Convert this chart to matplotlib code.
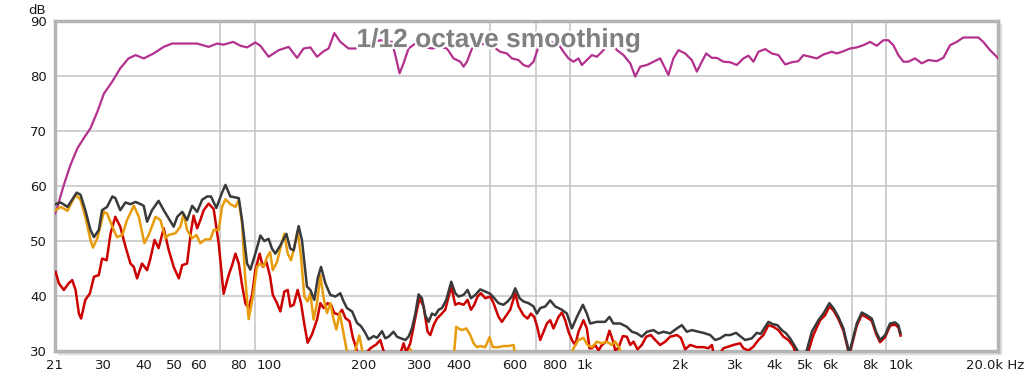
import matplotlib
matplotlib.use('Agg')
import matplotlib.pyplot as plt
import matplotlib.patheffects as pe
from matplotlib.patches import Rectangle
from matplotlib.ticker import FixedLocator, NullLocator

# magenta: main response
mag_f = [21.0, 21.3, 22.4, 23.5, 24.7, 25.9, 27.2, 28.6, 30.0, 31.9, 33.8, 35.9, 37.8, 40.1,
         43.1, 46.4, 49.3, 53.7, 59.2, 64.4, 68.5, 71.8, 77.0, 81.2, 85.2, 90.5, 93.9, 99.7,
         107.3, 115.4, 122.7, 128.7, 135.2, 141.9, 148.9, 154.4, 161.0, 168.2, 178.7, 187.6,
         197.5, 209.4, 225.1, 245.1, 251.1, 259.1, 266.7, 276.6, 290.6, 308.6, 328.1, 348.6,
         366.0, 384.1, 403.3, 413.1, 423.5, 439.2, 450.0, 484.0, 514.0, 539.7, 566.7, 587.8,
         616.8, 639.6, 663.5, 688.0, 713.6, 765.9, 816.0, 856.1, 888.0, 921.0, 955.1, 979.0,
         1015, 1053, 1092, 1133, 1203, 1264, 1326, 1393, 1444, 1498, 1573, 1650, 1733, 1775,
         1840, 1908, 1980, 2079, 2182, 2264, 2348, 2423, 2526, 2619, 2748, 2886, 3030, 3179,
         3298, 3420, 3547, 3725, 3910, 4104, 4310, 4525, 4747, 4923, 5171, 5429, 5696, 6056,
         6281, 6590, 6920, 7266, 7624, 8006, 8406, 8820, 9149, 9487, 9841, 10207, 10585,
         11116, 11670, 12247, 13018, 13659, 14344, 15061, 15802, 16595, 17630, 18282, 19200,
         20159, 20350]
mag_db = [55.0, 55.9, 60.2, 63.8, 66.8, 68.7, 70.5, 73.5, 76.8, 79.0, 81.4, 83.2, 83.8, 83.2,
          84.1, 85.3, 85.9, 85.9, 85.9, 85.3, 85.9, 85.7, 86.2, 85.5, 85.2, 86.1, 85.5, 83.5,
          84.7, 85.3, 83.3, 85.0, 85.2, 83.5, 84.5, 85.0, 87.8, 86.2, 85.0, 85.0,
          85.5, 86.0, 86.5, 86.2, 83.8, 80.5, 82.3, 85.0, 85.9, 85.3, 85.0, 85.3,
          85.0, 83.2, 82.6, 81.7, 82.6, 85.0, 85.9, 85.8, 85.3, 84.4, 84.1, 83.2,
          82.9, 82.0, 81.7, 82.6, 85.3, 86.0, 86.2, 84.4, 83.2, 82.6, 83.2, 82.0,
          82.9, 83.8, 83.5, 84.4, 86.2, 84.7, 83.8, 82.3, 79.9, 81.7, 82.0, 82.6, 83.2, 82.0,
          80.2, 83.2, 84.7, 84.1, 82.9, 80.8, 82.6, 84.1, 83.3, 83.3, 82.6, 82.5, 82.0, 83.2,
          83.7, 82.6, 84.4, 84.9, 84.1, 83.8, 82.1, 82.5, 82.7, 83.8, 83.5, 83.2, 83.9, 84.4,
          84.1, 84.5, 85.0, 85.2, 85.6, 86.2, 85.5, 86.5, 86.5, 85.6, 83.8, 82.6, 82.6,
          83.2, 82.3, 82.9, 82.7, 83.3, 85.6, 86.2, 87.0, 87.0, 87.0, 86.2, 84.7,
          83.5, 83.2]

# dark grey
dark_f = [21.1, 21.9, 23.0, 23.8, 24.6, 25.3, 26.2, 27.2, 27.9, 28.9, 29.6, 30.7, 31.9, 32.6,
          33.8, 35.1, 36.4, 37.8, 39.2, 40.1, 41.1, 42.6, 44.7, 46.4, 48.1, 49.9, 51.2, 53.1,
          55.0, 57.1, 59.2, 61.4, 63.7, 65.5, 68.1, 71.0, 72.8, 75.4, 80.2, 82.2, 85.2, 87.3,
          90.5, 93.9, 96.6, 99.7, 102.2, 104.7, 108.6, 113.5, 116.8, 119.7, 124.1, 127.2,
          131.9, 135.2, 139.1, 142.6, 146.1, 150.8, 156.4, 162.2, 168.2, 172.3, 176.6, 183.2,
          190.0, 195.6, 201.8, 206.7, 214.4, 219.8, 227.9, 233.5, 239.1, 247.9, 254.2, 261.7,
          270.1, 276.6, 283.5, 290.6, 297.6, 305.0, 312.5, 320.1, 328.1, 336.1, 344.3, 352.9,
          364.2, 377.6, 388.9, 398.4, 413.1, 425.4, 436.0, 450.0, 466.6, 484.0, 501.9, 516.7,
          533.1, 552.8, 569.3, 587.8, 602.2, 621.4, 639.6, 663.5, 688.0, 705.3, 722.5, 749.4,
          777.1, 806.1, 846.2, 877.6, 910.2, 944.0, 986.2, 1015, 1040, 1092, 1160, 1197, 1232,
          1295, 1359, 1410, 1462, 1516, 1573, 1650, 1712, 1775, 1863, 1957, 2029, 2104, 2182,
          2290, 2375, 2495, 2588, 2683, 2783, 2886, 3015, 3104, 3220, 3380, 3505, 3609, 3697,
          3815, 3934, 4074, 4206, 4341, 4469, 4601, 4713, 4806, 4948, 5047, 5235, 5493, 5696,
          5952, 6126, 6355, 6590, 6786, 6871, 7048, 7266, 7536, 7815, 8105, 8365, 8612, 8933,
          9263, 9608, 9841, 10000]
dark_db = [56.7, 57.0, 56.2, 57.5, 58.8, 58.4, 55.6, 52.0, 50.7, 52.0, 55.6, 56.2, 58.1, 57.8,
           55.6, 57.0, 56.7, 57.1, 56.7, 56.4, 53.5, 55.6, 57.3, 55.6, 54.1, 52.6, 54.4, 55.3,
           53.8, 56.4, 55.3, 57.5, 58.1, 58.1, 56.0, 58.8, 60.2, 58.1, 57.8, 53.7, 45.9, 44.8,
           47.7, 51.0, 50.0, 50.4, 48.6, 47.7, 49.2, 51.3, 48.6, 48.3, 52.7, 50.1,
           41.7, 41.1, 39.3, 43.2, 45.3, 42.3, 40.2, 39.9, 40.5, 39.0, 37.8, 37.2,
           35.1, 34.5, 33.3, 32.1, 32.7, 32.4, 33.6, 32.3, 32.6, 33.5, 32.6, 32.3,
           32.0, 32.6, 34.1, 36.8, 40.3, 39.6, 36.5, 35.3, 36.8, 36.5, 37.5, 37.8,
           39.3, 42.6, 40.5, 39.9, 40.2, 41.1, 39.6, 40.2, 41.2, 40.8, 40.4, 39.6,
           38.7, 38.4, 39.0, 39.9, 41.4, 39.6, 39.0, 38.7, 38.1, 36.8, 37.8, 38.1,
           39.2, 38.1, 37.5, 36.8, 34.1, 36.2, 38.4, 36.8, 35.0, 35.3, 35.3, 36.2, 35.0,
           35.0, 34.4, 33.5, 33.2, 32.6, 33.5, 33.8, 33.2, 33.5, 33.2, 34.1, 34.7, 33.5, 33.8,
           33.5, 33.3, 32.9, 32.0, 32.3, 32.9, 32.9, 33.3, 32.7, 32.0, 32.3, 33.3, 33.1, 34.1,
           35.3, 34.9, 34.7, 33.8, 33.2, 32.3, 31.1, 30.1, 28.5, 28.5, 30.1, 33.5, 35.6, 36.8,
           38.7, 37.8, 36.2, 34.1, 31.1, 29.6, 32.0, 35.0, 37.0, 36.5, 35.9, 33.5, 32.0, 32.9,
           35.0, 35.2, 34.7, 33.2]

# red
red_f = [21.1, 21.6, 22.4, 23.2, 23.8, 24.4, 25.0, 25.4, 26.2, 27.1, 27.9, 28.9, 29.6, 30.6,
         31.5, 32.6, 33.8, 35.1, 36.4, 37.3, 38.2, 39.6, 41.1, 42.1, 43.4, 44.7, 46.4, 48.1,
         49.9, 51.8, 53.1, 55.0, 56.7, 57.7, 59.2, 60.6, 62.1, 64.4, 66.8, 69.3, 71.8, 74.5,
         76.4, 78.3, 80.2, 82.2, 84.2, 86.2, 88.4, 90.5, 93.4, 95.6, 98.1, 100.8, 102.8,
         106.0, 108.6, 111.8, 114.6, 116.8, 119.7, 123.2, 126.3, 129.4, 132.5, 136.8, 141.9,
         145.4, 148.9, 153.3, 157.2, 161.0, 166.1, 170.3, 174.5, 180.0, 184.3, 189.0, 193.2,
         198.7, 209.4, 218.7, 225.1, 230.0, 235.2, 247.3, 260.4, 266.7, 272.1, 280.1, 286.9,
         294.1, 299.8, 308.6, 317.8, 324.1, 332.0, 340.3, 348.6, 361.5, 377.6, 388.9, 398.4,
         413.1, 425.4, 436.0, 446.7, 457.5, 468.9, 484.0, 501.9, 514.0, 533.1, 546.4, 559.9,
         580.6, 602.2, 616.8, 639.6, 658.7, 675.1, 691.5, 706.8, 722.5, 740.0, 758.5, 777.1,
         795.9, 825.6, 846.2, 867.0, 888.0, 910.2, 932.5, 955.1, 990.4, 1015, 1035, 1053,
         1079, 1105, 1133, 1169, 1197, 1225, 1249, 1279, 1319, 1359, 1393, 1426, 1469, 1516,
         1565, 1619, 1671, 1733, 1797, 1863, 1957, 2015, 2079, 2156, 2264, 2375, 2464, 2526,
         2568, 2643, 2748, 2956, 3104, 3179, 3298, 3420, 3547, 3678, 3815, 3956, 4104, 4255,
         4414, 4577, 4669, 4806, 4948, 5107, 5296, 5561, 5768, 5952, 6126, 6355, 6590, 6786,
         6871, 7048, 7266, 7536, 7815, 8105, 8365, 8612, 8933, 9263, 9608, 9841, 10000]
red_db = [44.4, 42.3, 41.1, 42.3, 42.9, 41.1, 36.8, 35.9, 39.3, 40.5, 43.5, 43.8, 46.8, 46.5,
          51.4, 54.4, 52.6, 49.0, 45.9, 45.3, 43.2, 45.9, 44.7, 46.8, 50.2, 48.7, 52.3, 48.4,
          45.3, 43.2, 45.6, 45.9, 52.0, 54.6, 52.3, 53.8, 55.6, 56.8, 55.8, 49.5, 40.4, 43.8,
          45.6, 47.7, 45.9, 41.9, 38.6, 37.8, 40.2, 44.7, 47.7, 45.3, 46.2, 43.5, 40.2,
          38.7, 37.2, 40.8, 41.1, 38.1, 38.4, 41.1, 38.7, 34.8, 31.5, 33.0, 35.7,
          38.7, 37.8, 38.7, 38.4, 36.9, 36.6, 37.5, 36.0, 35.4, 32.4, 30.5, 28.0,
          29.0, 30.5, 31.2, 32.0, 30.2, 28.5, 28.0, 29.5, 31.4, 29.8, 31.4, 34.4,
          37.5, 39.6, 38.1, 33.5, 32.9, 34.7, 35.9, 36.5, 37.5, 41.7, 38.4, 38.7,
          38.4, 39.3, 37.5, 38.4, 39.9, 40.5, 39.6, 39.9, 38.7, 36.2, 35.3, 36.2,
          37.5, 40.5, 38.1, 36.5, 35.9, 36.8, 36.2, 34.4, 32.0, 33.5, 35.0, 35.6,
          34.1, 36.2, 37.0, 35.6, 33.5, 32.0, 31.1, 33.5, 35.6, 34.1, 30.5, 30.5,
          31.1, 30.1, 31.1, 31.7, 33.7, 32.0, 30.1, 30.6, 32.7, 32.6, 31.1, 31.7, 30.3, 31.1,
          32.6, 32.9, 32.0, 31.1, 31.7, 32.6, 32.9, 32.4, 30.3, 31.1, 30.7, 30.7, 30.5, 31.1,
          29.0, 29.0, 30.5, 31.1, 31.4, 30.5, 30.1, 30.8, 32.0, 32.9, 34.7, 34.4, 33.8, 32.6,
          32.0, 30.8, 29.3, 28.0, 28.5, 30.0, 32.9, 35.6, 36.5, 38.1, 37.4, 35.8, 33.7, 30.7,
          29.2, 31.6, 34.6, 36.6, 36.1, 35.5, 33.1, 31.6, 32.5, 34.6, 34.8, 34.3, 32.8]

# orange
orange_f = [21.1, 21.9, 23.0, 24.4, 25.3, 26.2, 27.2, 27.7, 28.6, 30.0, 30.7, 31.9, 33.0, 34.3,
            35.5, 37.3, 38.7, 40.3, 41.6, 43.7, 45.3, 47.0, 48.1, 50.5, 52.4, 53.7, 55.0, 57.1,
            58.9, 60.6, 62.9, 65.2, 66.8, 69.3, 71.0, 72.8, 75.4, 78.3, 80.2, 82.2, 83.9, 86.2,
            88.9, 91.6, 93.9, 96.2, 98.6, 100.8, 102.8, 106.0, 109.2, 111.8, 114.6, 117.4,
            120.3, 123.2, 126.3, 129.4, 132.5, 135.2, 138.4, 141.9, 145.4, 148.9, 152.6, 156.4,
            160.2, 163.4, 167.4, 171.3, 175.7, 179.6, 183.4, 190.4, 193.2, 197.5, 201.8, 272.1,
            280.1, 288.4, 383.3, 391.8, 398.4, 408.3, 421.4, 433.8, 444.3, 455.5, 466.6, 484.0,
            499.4, 511.1, 533.1, 552.8, 573.4, 594.8, 606.6, 886.1, 921.0, 955.1, 990.4, 1020,
            1053, 1092, 1133, 1174, 1218, 1249, 1288, 1313]
orange_db = [55.6, 56.2, 55.5, 58.4, 57.5, 54.4, 50.2, 48.8, 50.5, 55.3, 55.0, 52.6, 50.7, 51.1,
             53.8, 56.4, 54.4, 49.6, 51.1, 54.4, 53.8, 50.5, 51.1, 51.4, 52.6, 55.0, 52.0, 50.5,
             51.1, 49.6, 50.3, 50.3, 52.0, 52.0, 56.2, 57.6, 56.7, 56.2, 57.5, 53.0, 44.0, 35.8,
             39.9, 45.3, 45.9, 45.3, 47.1, 48.0, 44.7, 46.2, 49.2, 51.3, 47.7, 46.5,
             48.9, 51.9, 47.1, 39.9, 39.0, 40.5, 35.7, 38.7, 43.8, 39.6, 36.9, 38.7,
             35.7, 33.9, 36.9, 33.9, 30.5, 28.0, 28.0, 31.5, 32.8, 30.0, 28.0, 28.0,
             30.4, 28.0, 28.0, 34.4, 34.1, 33.8, 34.1, 32.9, 31.4, 30.7, 30.9, 30.7,
             32.5, 30.7, 30.7, 30.9, 30.9, 31.1, 28.0, 28.0, 30.5, 32.0, 32.4, 31.1,
             30.7, 31.7, 31.4, 31.7, 31.1, 31.7, 30.5, 28.0]

grid_freqs = [30, 40, 50, 60, 70, 80, 90, 100, 200, 300, 400, 500, 600, 700, 800, 900,
              1000, 2000, 3000, 4000, 5000, 6000, 7000, 8000, 9000, 10000]
label_freqs = [21, 30, 40, 50, 60, 80, 100, 200, 300, 400, 600, 800,
               1000, 2000, 3000, 4000, 5000, 6000, 8000, 10000, 20000]
label_text = ['21', '30', '40', '50', '60', '80', '100', '200', '300', '400', '600', '800',
              '1k', '2k', '3k', '4k', '5k', '6k', '8k', '10k', '20.0k Hz']
db_ticks = [30, 40, 50, 60, 70, 80, 90]

fig = plt.figure(figsize=(10.24, 3.8), dpi=100)
ax = fig.add_axes([55 / 1024, 29 / 380, 943 / 1024, 330 / 380])

# soft shadow behind the frame
fig.patches.append(Rectangle((58 / 1024, 26 / 380), 943 / 1024, 330 / 380,
                             transform=fig.transFigure, color='#dedede', zorder=-5))

ax.set_xscale('log')
ax.set_xlim(21, 20350)
ax.set_ylim(30, 90)

ax.xaxis.set_major_locator(FixedLocator(label_freqs))
ax.set_xticklabels(label_text)
ax.xaxis.set_minor_locator(FixedLocator(grid_freqs))
ax.set_yticks(db_ticks)
ax.yaxis.set_minor_locator(NullLocator())

ax.grid(which='minor', axis='x', color='#c8c8c8', lw=1.2)
ax.grid(which='major', axis='y', color='#c8c8c8', lw=1.2)
ax.set_axisbelow(True)
ax.tick_params(which='both', length=0, labelsize=9.5, colors='#1a1a1a')
ax.tick_params(axis='x', pad=6)
ax.tick_params(axis='y', pad=6)

for s in ax.spines.values():
    s.set_color('#b4b4b4')
    s.set_linewidth(2.5)

ax.plot(mag_f, mag_db, color='#b3308e', lw=1.6, zorder=3)
ax.plot(red_f, red_db, color='#cc0000', lw=1.8, zorder=3)
ax.plot(orange_f, orange_db, color='#e89c0c', lw=1.8, zorder=3)
ax.plot(dark_f, dark_db, color='#3a3a3a', lw=1.8, zorder=4)

ax.text(0.4705, 0.921, '1/12 octave smoothing', transform=ax.transAxes, ha='center',
        va='baseline', fontsize=19, fontweight='bold', family='Liberation Sans',
        color='#808080', zorder=6,
        path_effects=[pe.withStroke(linewidth=3, foreground='white')])

fig.text(37 / 1024, 1 - 10 / 380, 'dB', ha='center', va='center', fontsize=9.5, color='#1a1a1a')

fig.savefig('out.png', dpi=100)
